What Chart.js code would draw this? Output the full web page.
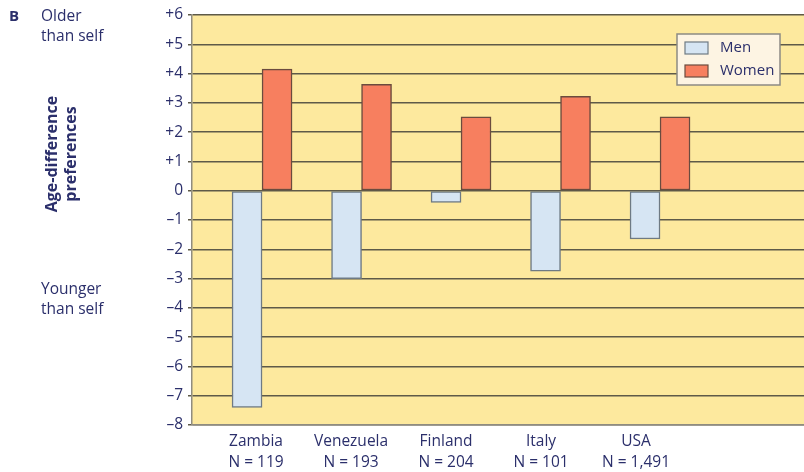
<!DOCTYPE html>
<html>
<head>
<meta charset="utf-8">
<script src="https://cdn.jsdelivr.net/npm/chart.js@4.4.0/dist/chart.umd.min.js"></script>
<style>
  body { margin: 0; background: #fff; }
  #wrap { width: 804px; height: 472px; }
</style>
</head>
<body>
<div id="wrap"><canvas id="ageChart" width="804" height="472"></canvas></div>
<script>
const countries = ['Zambia', 'Venezuela', 'Finland', 'Italy', 'USA'];
const sampleSizes = [119, 193, 204, 101, 1491];
const menPrefs = [-7.4, -3.0, -0.4, -2.75, -1.65];
const womenPrefs = [4.15, 3.63, 2.52, 3.22, 2.52];
const yTicks = [6, 5, 4, 3, 2, 1, 0, -1, -2, -3, -4, -5, -6, -7, -8];

const navy = '#2b2f6b';
const fontFamily = '"Open Sans", "Noto Sans", sans-serif';

// yellow plot background
const plotBg = {
    id: 'plotBg',
    beforeDraw(chart) {
        const { ctx, chartArea: a } = chart;
        ctx.save();
        ctx.fillStyle = '#fde99e';
        ctx.fillRect(a.left, a.top, a.right - a.left, a.bottom - a.top);
        ctx.restore();
    }
};

// side notes + boxed legend
const annotations = {
    id: 'annotations',
    afterDraw(chart) {
        const ctx = chart.ctx;
        ctx.save();
        ctx.fillStyle = navy;
        ctx.textBaseline = 'middle';
        ctx.textAlign = 'left';
        ctx.font = 'bold 15px ' + fontFamily;
        ctx.fillText('B', 9, 17);
        ctx.font = '15.5px ' + fontFamily;
        ctx.fillText('Older', 41, 17);
        ctx.fillText('than self', 41, 37);
        ctx.fillText('Younger', 41, 290);
        ctx.fillText('than self', 41, 310);

        ctx.save();
        ctx.translate(52, 154);
        ctx.rotate(-Math.PI / 2);
        ctx.textAlign = 'center';
        ctx.font = 'bold 16px ' + fontFamily;
        ctx.fillText('Age-difference', 0, 0);
        ctx.fillText('preferences', 0, 19);
        ctx.restore();

        // legend box
        const bx = 677, by = 34, bw = 103, bh = 51;
        ctx.fillStyle = '#fdf4e3';
        ctx.fillRect(bx, by, bw, bh);
        ctx.strokeStyle = '#8c8a84';
        ctx.lineWidth = 1.5;
        ctx.strokeRect(bx, by, bw, bh);
        chart.data.datasets.forEach((ds, i) => {
            const y = by + 14 + i * 23;
            ctx.fillStyle = ds.backgroundColor;
            ctx.fillRect(bx + 8, y - 6, 23, 12);
            ctx.strokeStyle = ds.borderColor;
            ctx.lineWidth = 1.2;
            ctx.strokeRect(bx + 8, y - 6, 23, 12);
            ctx.fillStyle = navy;
            ctx.font = '15px ' + fontFamily;
            ctx.textAlign = 'left';
            ctx.fillText(ds.label, bx + 43, y);
        });
        ctx.restore();
    }
};

new Chart(document.getElementById('ageChart').getContext('2d'), {
    type: 'bar',
    data: {
        datasets: [{
            label: 'Men',
            data: menPrefs.map((v, i) => ({ x: i, y: v })),
            xAxisID: 'x',
            backgroundColor: '#d6e5f3',
            borderColor: '#6e7a84',
            borderWidth: 1.5,
            borderSkipped: false,
            barThickness: 30
        }, {
            label: 'Women',
            data: womenPrefs.map((v, i) => ({ x: i, y: v })),
            xAxisID: 'x',
            backgroundColor: '#f77f5f',
            borderColor: '#6b4b3e',
            borderWidth: 1.5,
            borderSkipped: false,
            barThickness: 30
        }]
    },
    options: {
        responsive: false,
        animation: false,
        layout: { padding: { top: 15, right: 0, left: 0, bottom: 0 } },
        plugins: {
            legend: { display: false },
            tooltip: { enabled: false }
        },
        scales: {
            x: {
                type: 'linear',
                position: 'bottom',
                min: -0.704,
                max: 5.447,
                offset: false,
                grid: { display: false, offset: false, drawTicks: false },
                border: { display: true, color: '#8f8c80', width: 1.5 },
                ticks: { display: false },
                afterFit: (scale) => { scale.height = 0; }
            },
            // country labels sit on their own axis (slightly tighter spacing than the bars)
            xl: {
                type: 'linear',
                position: 'bottom',
                min: -0.674,
                max: 5.768,
                offset: false,
                grid: { display: false, offset: false, drawTicks: false },
                border: { display: false },
                afterBuildTicks: (scale) => {
                    scale.ticks = countries.map((c, i) => ({ value: i }));
                },
                ticks: {
                    autoSkip: false,
                    maxRotation: 0,
                    padding: 6,
                    color: navy,
                    font: { family: fontFamily, size: 15.5, lineHeight: 1.37 },
                    callback: (v) => [countries[v], 'N = ' + sampleSizes[v].toLocaleString('en-US')]
                },
                afterFit: (scale) => { scale.height = 47; }
            },
            y: {
                min: -8,
                max: 6,
                afterBuildTicks: (scale) => {
                    scale.ticks = yTicks.map(v => ({ value: v }));
                },
                grid: { color: '#5e5a48', lineWidth: 1.5, tickLength: 4 },
                border: { display: true, color: '#8f8c80', width: 1.5 },
                ticks: {
                    padding: 5,
                    color: navy,
                    font: { family: fontFamily, size: 15.5 },
                    callback: (v) => v > 0 ? '+' + v : (v < 0 ? '\u2013' + (-v) : '0')
                },
                afterFit: (scale) => { scale.width = 192; }
            }
        }
    },
    plugins: [plotBg, annotations]
});
</script>
</body>
</html>
